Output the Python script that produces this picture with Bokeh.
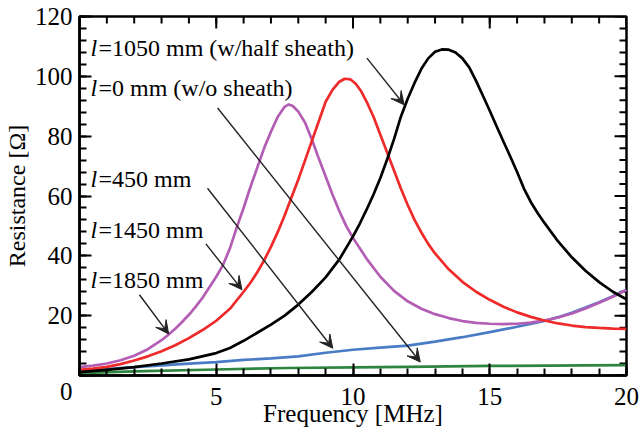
import numpy as np
from bokeh.plotting import figure
from bokeh.models import Arrow, VeeHead, ColumnDataSource, Range1d, SingleIntervalTicker
from bokeh.core.properties import value
from bokeh.embed import file_html
from bokeh.resources import INLINE

FONT = "Liberation Serif"

# ---- data ----
f_1850 = [0, 0.5, 1, 1.5, 2, 2.5, 3, 3.25, 3.5, 3.75, 4, 4.25, 4.5, 4.75, 5, 5.25, 5.5, 5.75,
          6, 6.25, 6.5, 6.75, 7, 7.25, 7.5, 7.65, 7.8, 8, 8.25, 8.5, 8.75, 9, 9.25, 9.5, 9.75,
          10, 10.5, 11, 11.5, 12, 12.5, 13, 13.5, 14, 14.5, 15, 15.5, 16, 16.5, 17, 17.5, 18,
          18.5, 19, 19.5, 20]
r_1850 = [2.8, 3.3, 4.0, 5.1, 6.6, 8.8, 11.8, 13.6, 15.6, 17.9, 20.3, 23.0, 26.0, 29.5, 33.0,
          37.0, 42.5, 49.5, 56.0, 63.0, 69.5, 76.0, 81.5, 86.5, 89.8, 90.6, 90.1, 88.2, 84.5,
          78.8, 72.5, 66.5, 60.5, 55.0, 50.0, 46.0, 39.0, 33.0, 28.3, 24.8, 22.3, 20.5, 19.2,
          18.2, 17.6, 17.3, 17.2, 17.3, 17.7, 18.4, 19.4, 20.7, 22.4, 24.3, 26.3, 28.6]

f_1450 = [0, 0.5, 1, 1.5, 2, 2.5, 3, 3.5, 4, 4.5, 5, 5.5, 6, 6.25, 6.5, 6.75, 7, 7.25, 7.5,
          7.75, 8, 8.25, 8.5, 8.75, 9, 9.25, 9.5, 9.7, 9.9, 10.1, 10.3, 10.5, 10.75, 11, 11.25,
          11.5, 11.75, 12, 12.25, 12.5, 12.75, 13, 13.5, 14, 14.5, 15, 15.5, 16, 16.5, 17,
          17.5, 18, 18.5, 19, 19.5, 20]
r_1450 = [1.9, 2.3, 2.9, 3.8, 5.0, 6.4, 8.1, 10.1, 12.5, 15.2, 18.3, 22.3, 28.0, 31.0, 34.5,
          38.5, 43.0, 48.0, 53.5, 59.5, 65.5, 72.0, 78.5, 85.0, 91.5, 95.5, 98.2, 99.2, 99.0,
          97.5, 95.0, 91.5, 86.5, 80.5, 74.5, 68.5, 62.5, 57.0, 52.0, 47.8, 44.0, 40.8, 35.5,
          31.3, 28.0, 25.3, 23.0, 21.1, 19.6, 18.4, 17.4, 16.7, 16.2, 15.9, 15.7, 15.6]

f_1050 = [0, 1, 2, 3, 4, 5, 5.5, 6, 6.5, 7, 7.5, 8, 8.5, 9, 9.5, 10, 10.25, 10.5, 10.75, 11,
          11.25, 11.5, 11.75, 12, 12.25, 12.5, 12.75, 13, 13.25, 13.5, 13.75, 14, 14.25, 14.5,
          14.75, 15, 15.25, 15.5, 15.75, 16, 16.25, 16.5, 16.75, 17, 17.5, 18, 18.5, 19, 19.5, 20]
r_1050 = [1.1, 1.9, 2.8, 4.0, 5.4, 7.5, 9.2, 11.6, 14.3, 17.0, 20.0, 23.7, 28.0, 32.8, 38.8,
          46.5, 50.8, 55.5, 60.5, 66.0, 72.3, 79.0, 86.5, 92.5, 97.8, 102.5, 106.0, 108.2,
          109.0, 108.9, 108.0, 106.0, 103.0, 98.5, 93.5, 88.5, 83.3, 78.2, 73.2, 68.0, 62.5,
          58.0, 54.3, 51.0, 44.8, 39.5, 35.0, 31.2, 28.0, 25.5]

f_450 = [0, 1, 2, 3, 4, 5, 6, 7, 8, 9, 10, 11, 12, 13, 14, 15, 16, 17, 17.5, 18, 18.5, 19,
         19.5, 20]
r_450 = [1.3, 2.1, 2.8, 3.4, 4.0, 4.5, 5.2, 5.7, 6.4, 7.6, 8.6, 9.3, 10.0, 11.3, 12.8, 14.5,
         16.3, 18.2, 19.5, 21.0, 22.7, 24.5, 26.5, 28.7]

f_0 = [0, 2, 5, 7.6, 10, 12, 15, 20]
r_0 = [0.8, 1.4, 2.0, 2.5, 2.7, 2.9, 3.2, 3.5]

label_text = ["=1050 mm (w/half sheath)", "=0 mm (w/o sheath)", "=450 mm", "=1450 mm", "=1850 mm"]
label_x = [0.40, 0.40, 0.40, 0.40, 0.40]
label_y = [106.4, 93.0, 62.6, 45.7, 29.0]

arrow_x0 = [10.51, 5.05, 4.68, 4.62, 2.19]
arrow_y0 = [106.1, 89.4, 62.6, 44.0, 27.0]
arrow_x1 = [11.87, 12.46, 9.26, 5.94, 3.26]
arrow_y1 = [90.5, 4.5, 9.1, 28.7, 13.9]

X_MAX, Y_MAX = 20, 120
x_major, x_minor = 5, 1
y_major, y_minor = 20, 4

# ---- figure ----
W, H = 639, 432
BL, BR, BT, BB = 78, 13, 16, 57
FW, FH = W - BL - BR, H - BT - BB

p = figure(width=W, height=H, output_backend="svg", toolbar_location=None,
           x_range=Range1d(0, X_MAX), y_range=Range1d(0, Y_MAX),
           min_border_left=BL, min_border_right=BR, min_border_top=BT, min_border_bottom=BB)
p.border_fill_color = "white"
p.grid.visible = False
p.outline_line_color = "black"
p.outline_line_width = 2.5

def style_axis(ax):
    ax.axis_line_width = 2.5
    ax.axis_line_color = "black"
    ax.major_tick_in = 12
    ax.major_tick_out = 0
    ax.minor_tick_in = 7
    ax.minor_tick_out = 0
    ax.major_tick_line_width = 2
    ax.minor_tick_line_width = 2
    ax.major_label_text_font = FONT
    ax.major_label_text_font_size = "25px"
    ax.major_label_text_color = "black"
    ax.axis_label_text_font = FONT
    ax.axis_label_text_font_style = "normal"
    ax.axis_label_text_color = "black"

xa = p.xaxis[0]
xa.ticker = SingleIntervalTicker(interval=x_major, num_minor_ticks=x_major // x_minor)
style_axis(xa)
xa.axis_label = "Frequency [MHz]"
xa.axis_label_text_font_size = "25px"
xa.major_label_standoff = 12
xa.axis_label_standoff = -8
xa.major_label_overrides = {0: ""}

ya = p.yaxis[0]
ya.ticker = SingleIntervalTicker(interval=y_major, num_minor_ticks=y_major // y_minor)
style_axis(ya)
ya.axis_label = "Resistance [Ω]"
ya.axis_label_text_font_size = "24px"
ya.major_label_standoff = 7
ya.axis_label_standoff = 2
ya.major_label_overrides = {0: "\n0"}

# inward ticks on the top and right edges of the frame
dx_per_px = X_MAX / FW
dy_per_px = Y_MAX / FH
xt_major = np.arange(0, X_MAX + 1e-9, x_major)
xt_minor = np.arange(0, X_MAX + 1e-9, x_minor)
yt_major = np.arange(0, Y_MAX + 1e-9, y_major)
yt_minor = np.arange(0, Y_MAX + 1e-9, y_minor)
p.segment(x0=xt_minor, y0=Y_MAX, x1=xt_minor, y1=Y_MAX - 7 * dy_per_px,
          line_color="black", line_width=2)
p.segment(x0=xt_major, y0=Y_MAX, x1=xt_major, y1=Y_MAX - 12 * dy_per_px,
          line_color="black", line_width=2)
p.segment(x0=X_MAX, y0=yt_minor, x1=X_MAX - 7 * dx_per_px, y1=yt_minor,
          line_color="black", line_width=2)
p.segment(x0=X_MAX, y0=yt_major, x1=X_MAX - 12 * dx_per_px, y1=yt_major,
          line_color="black", line_width=2)

# curves
lw = 2.7
p.line(f_0, r_0, line_color="#2e8540", line_width=lw)
p.line(f_450, r_450, line_color="#4a7cc6", line_width=lw)
p.line(f_1850, r_1850, line_color="#b35db5", line_width=lw)
p.line(f_1450, r_1450, line_color="#ee2a2a", line_width=lw)
p.line(f_1050, r_1050, line_color="black", line_width=lw)

# arrows
asrc = ColumnDataSource(dict(x0=arrow_x0, y0=arrow_y0, x1=arrow_x1, y1=arrow_y1))
p.add_layout(Arrow(x_start="x0", y_start="y0", x_end="x1", y_end="y1", source=asrc,
                   line_color="#222222", line_width=1.4,
                   end=VeeHead(size=13, line_color="#222222", fill_color="#222222",
                               line_width=1)))

# annotation text: italic "l" followed by the rest
TEXT_DY = -9
p.text(x=label_x, y=label_y, text=["l"] * len(label_x), y_offset=TEXT_DY,
       text_font=value(FONT), text_font_style="italic", text_font_size="24px",
       text_baseline="alphabetic", text_align="left", text_color="black")
p.text(x=label_x, y=label_y, text=label_text, x_offset=8, y_offset=TEXT_DY,
       text_font=value(FONT), text_font_size="24px", text_baseline="alphabetic",
       text_align="left", text_color="black")

open("out.html", "w").write(file_html(p, INLINE))
